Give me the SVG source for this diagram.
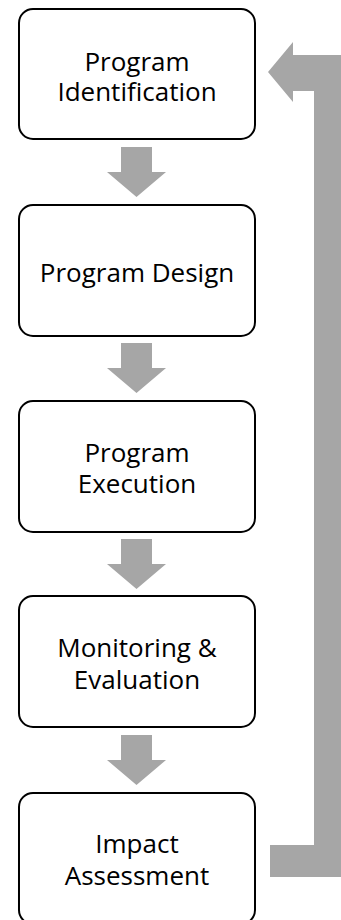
<svg xmlns="http://www.w3.org/2000/svg" width="341" height="920" viewBox="0 0 341 920">
<style>
.box{fill:#fff;stroke:#000;stroke-width:2}
.lbl{font-family:"Open Sans","Noto Sans",sans-serif;font-size:26px;fill:#000;text-anchor:middle}
.arr{fill:#A6A6A6}
</style>
<defs>
<polygon id="down" points="-16,0 15,0 15,25 29,25 -0.5,50 -30,25 -16,25"/>
</defs>
<rect width="341" height="920" fill="#fff"/>
<g id="connectors">
<use href="#down" class="arr" x="137" y="147"/>
<use href="#down" class="arr" x="137" y="343"/>
<use href="#down" class="arr" x="137" y="539"/>
<use href="#down" class="arr" x="137" y="735"/>
<polygon id="return" class="arr" points="268,72 293,42 293,55 346,55 346,877 270,877 270,845 314,845 314,91 293,91 293,102"/>
</g>
<g id="n1"><rect class="box" x="19" y="9" width="236" height="130" rx="14"/><text class="lbl" x="137" y="71">Program</text><text class="lbl" x="137" y="101">Identification</text></g>
<g id="n2"><rect class="box" x="19" y="205" width="236" height="131" rx="14"/><text class="lbl" x="137" y="282">Program Design</text></g>
<g id="n3"><rect class="box" x="19" y="401" width="236" height="131" rx="14"/><text class="lbl" x="137" y="462">Program</text><text class="lbl" x="137" y="493">Execution</text></g>
<g id="n4"><rect class="box" x="19" y="596" width="236" height="131" rx="14"/><text class="lbl" x="137" y="657">Monitoring &amp;</text><text class="lbl" x="137" y="689">Evaluation</text></g>
<g id="n5"><rect class="box" x="19" y="793" width="236" height="131" rx="14"/><text class="lbl" x="137" y="853">Impact</text><text class="lbl" x="137" y="885">Assessment</text></g>
</svg>
